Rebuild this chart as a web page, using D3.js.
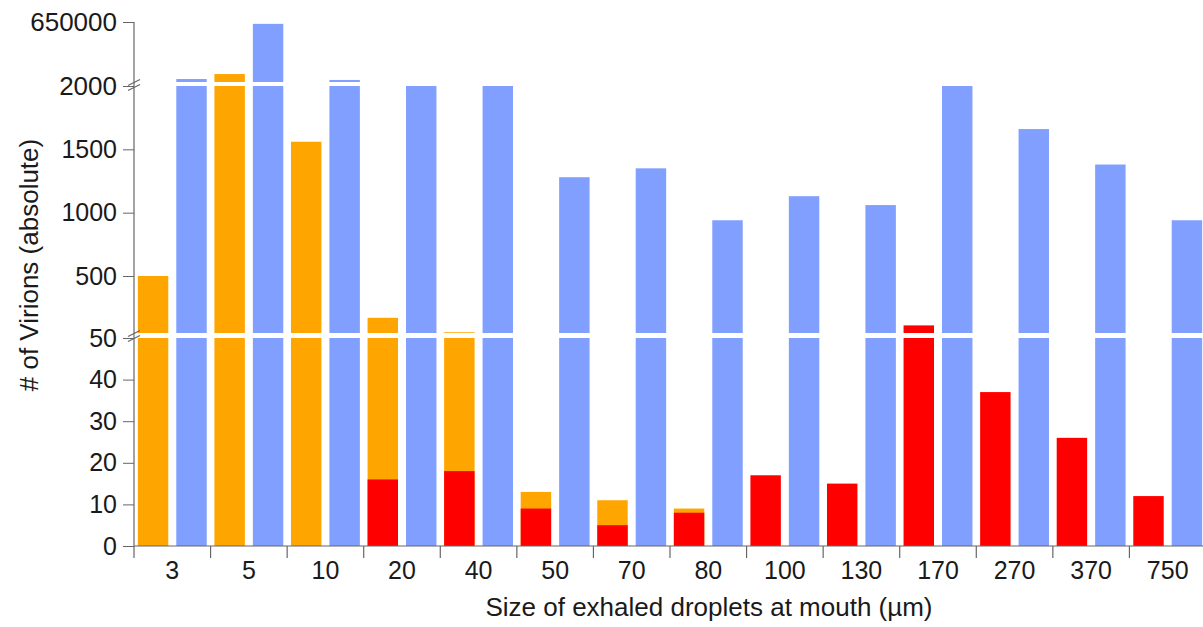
<!DOCTYPE html>
<html><head><meta charset="utf-8">
<script src="https://cdn.jsdelivr.net/npm/d3@7"></script>
<style>
html,body{margin:0;padding:0;background:#fff;}
svg text{font-family:"Liberation Sans",Arial,sans-serif;fill:#1a1a1a;}
</style></head>
<body>
<svg id="chart" width="1203" height="627"></svg>
<script>
const categories = ["3","5","10","20","40","50","70","80","100","130","170","270","370","750"];
const orangeValues = [500, 88000, 1560, 170, 56, 13, 11, 9, 0, 0, 0, 0, 0, 0];
const redValues    = [0, 0, 0, 16, 18, 9, 5, 8, 17, 15, 110, 37, 26, 12];
const blueValues   = [34000, 630000, 24000, 2000, 2000, 1280, 1350, 940, 1130, 1060, 2000, 1660, 1380, 940];
const lowTicks = [0, 10, 20, 30, 40, 50];
const midTicks = [500, 1000, 1500, 2000];
const topTicks = [650000];

const svg = d3.select("#chart");
const left = 134, right = 1206, bottom = 546;

const yLow = d3.scaleLinear().domain([0, 50]).range([bottom, 338]);
const yMid = d3.scaleLinear().domain([50, 2000]).range([333, 86]);
const yTop = d3.scaleLinear().domain([2000, 650000]).range([82, 22]);
function y(v){ return v <= 50 ? yLow(v) : (v <= 2000 ? yMid(v) : yTop(v)); }

const x = d3.scaleBand().domain(categories).range([left, right]).paddingInner(0).paddingOuter(0);
const xs = d3.scaleBand().domain(["a","b"]).range([0, x.bandwidth()]).paddingInner(0.208).paddingOuter(0.1);

const colBlue = "#809FFF", colOrange = "#FFA500", colRed = "#FF0000";

const g = svg.append("g");
function bars(vals, key, color){
  g.selectAll(null).data(categories.map((c,i)=>({c, v: vals[i]})).filter(d=>d.v>0))
    .enter().append("rect")
    .attr("x", d => x(d.c) + xs(key))
    .attr("width", xs.bandwidth())
    .attr("y", d => y(d.v))
    .attr("height", d => bottom - y(d.v))
    .attr("fill", color);
}
bars(orangeValues, "a", colOrange);
bars(redValues, "a", colRed);
bars(blueValues, "b", colBlue);

// break stripes
[[333, 338], [82, 86]].forEach(([a,b]) => {
  svg.append("rect").attr("x", left + 1).attr("y", a).attr("width", 1203 - left).attr("height", b - a).attr("fill", "#fff");
});

const axisColor = "#666";
function yAxis(scale, ticks, fs){
  const ax = svg.append("g").attr("transform", `translate(${left},0)`)
    .call(d3.axisLeft(scale).tickValues(ticks).tickSizeInner(11).tickSizeOuter(0).tickPadding(6).tickFormat(d3.format("d")));
  ax.select(".domain").remove();
  ax.selectAll(".tick line").attr("stroke", axisColor);
  ax.selectAll(".tick text").style("font-size", fs + "px").attr("fill", "#1a1a1a");
  return ax;
}
yAxis(yLow, lowTicks, 25);
const midAx = yAxis(yMid, midTicks, 25);
midAx.selectAll(".tick text").filter(d => d === 2000).style("font-size", "26px");
yAxis(yTop, topTicks, 26);

svg.append("line").attr("x1", left).attr("x2", left).attr("y1", 22).attr("y2", bottom)
  .attr("stroke", axisColor).attr("stroke-width", 1.2);

// break marks on axis
[336, 85].forEach(yy => {
  [-2.5, 2.5].forEach(off => {
    svg.append("line").attr("x1", left - 6).attr("x2", left + 6)
      .attr("y1", yy + off + 3).attr("y2", yy + off - 3)
      .attr("stroke", axisColor).attr("stroke-width", 1.2);
  });
});

// x axis
const xAxisG = svg.append("g").attr("transform", `translate(0,${bottom})`);
xAxisG.append("line").attr("x1", left).attr("x2", 1203).attr("stroke", axisColor).attr("stroke-width", 1.2);
xAxisG.selectAll(".bt").data(categories.concat(["_end"])).enter().append("line")
  .attr("x1", (d,i) => i < categories.length ? x(d) : right)
  .attr("x2", (d,i) => i < categories.length ? x(d) : right)
  .attr("y1", 0).attr("y2", 12).attr("stroke", axisColor).attr("stroke-width", 1.2);
xAxisG.selectAll(".lbl").data(categories).enter().append("text")
  .attr("x", d => x(d) + x.bandwidth()/2).attr("y", 33)
  .attr("text-anchor", "middle").style("font-size", "25px").text(d => d);

svg.append("text").attr("x", 709).attr("y", 616).attr("text-anchor", "middle")
  .style("font-size", "26px").text("Size of exhaled droplets at mouth (µm)");
svg.append("text").attr("transform", "translate(38,265) rotate(-90)").attr("text-anchor", "middle")
  .style("font-size", "26px").text("# of Virions (absolute)");
</script>
</body></html>
